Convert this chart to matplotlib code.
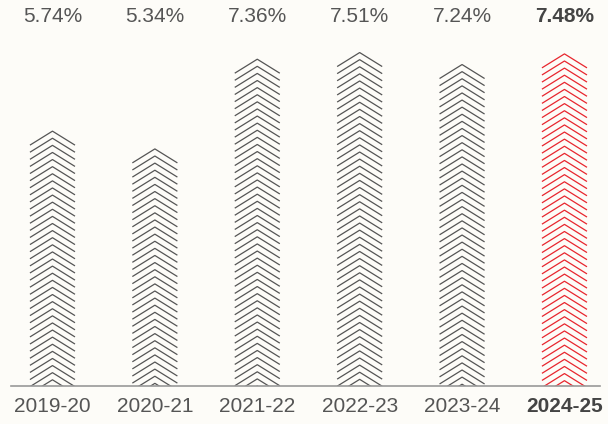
import matplotlib
matplotlib.use("Agg")
import matplotlib.pyplot as plt
import matplotlib.transforms as mtransforms
from matplotlib.collections import LineCollection
from matplotlib.patches import Rectangle

# data
years = ["2019-20", "2020-21", "2021-22", "2022-23", "2023-24", "2024-25"]
values = [5.74, 5.34, 7.36, 7.51, 7.24, 7.48]
labels = ["5.74%", "5.34%", "7.36%", "7.51%", "7.24%", "7.48%"]
highlight = [False, False, False, False, False, True]

bg = "#fdfcf8"
grey = "#555555"
red = "#e8262e"

plt.rcParams["font.family"] = ["Liberation Sans", "DejaVu Sans"]

fig = plt.figure(figsize=(6.08, 4.24), dpi=100, facecolor=bg)
ax = fig.add_axes([11 / 608, 38 / 424, 589 / 608, 386 / 424])
ax.set_facecolor(bg)
ax.set_xlim(-0.405, 5.347)
ax.set_ylim(0, 386 / 44.4)

half_w = 0.22     # half bar width in x units
drop = 0.315      # chevron arm drop
step = 0.16       # spacing between chevrons

for i, v in enumerate(values):
    col = red if highlight[i] else grey
    segs = []
    k = 0
    while v - k * step > -drop:
        top = v - k * step
        segs.append([(i - half_w, top - drop), (i, top), (i + half_w, top - drop)])
        k += 1
    lc = LineCollection(segs, colors=col, linewidths=0.9, capstyle="butt")
    clip = Rectangle((i - half_w - 0.01, 0), 2 * half_w + 0.02, v + 1, transform=ax.transData)
    lc.set_clip_path(clip)
    ax.add_collection(lc)

# value labels along the top
trans = mtransforms.blended_transform_factory(ax.transData, fig.transFigure)
for i, lab in enumerate(labels):
    fig.text(i, 1 - 17 / 424, lab, transform=trans, ha="center", va="center",
             fontsize=15, color="#444444" if highlight[i] else grey,
             fontweight="bold" if highlight[i] else "normal")

ax.set_xticks(range(len(years)))
ax.set_xticklabels(years, fontsize=15, color=grey)
for i, t in enumerate(ax.get_xticklabels()):
    if highlight[i]:
        t.set_fontweight("bold")
        t.set_color("#444444")
ax.tick_params(axis="x", length=0, pad=8)
ax.set_yticks([])
for s in ["top", "left", "right"]:
    ax.spines[s].set_visible(False)
ax.spines["bottom"].set_color("#999999")
ax.spines["bottom"].set_linewidth(1.2)

fig.savefig("out.png", dpi=100, facecolor=bg)
